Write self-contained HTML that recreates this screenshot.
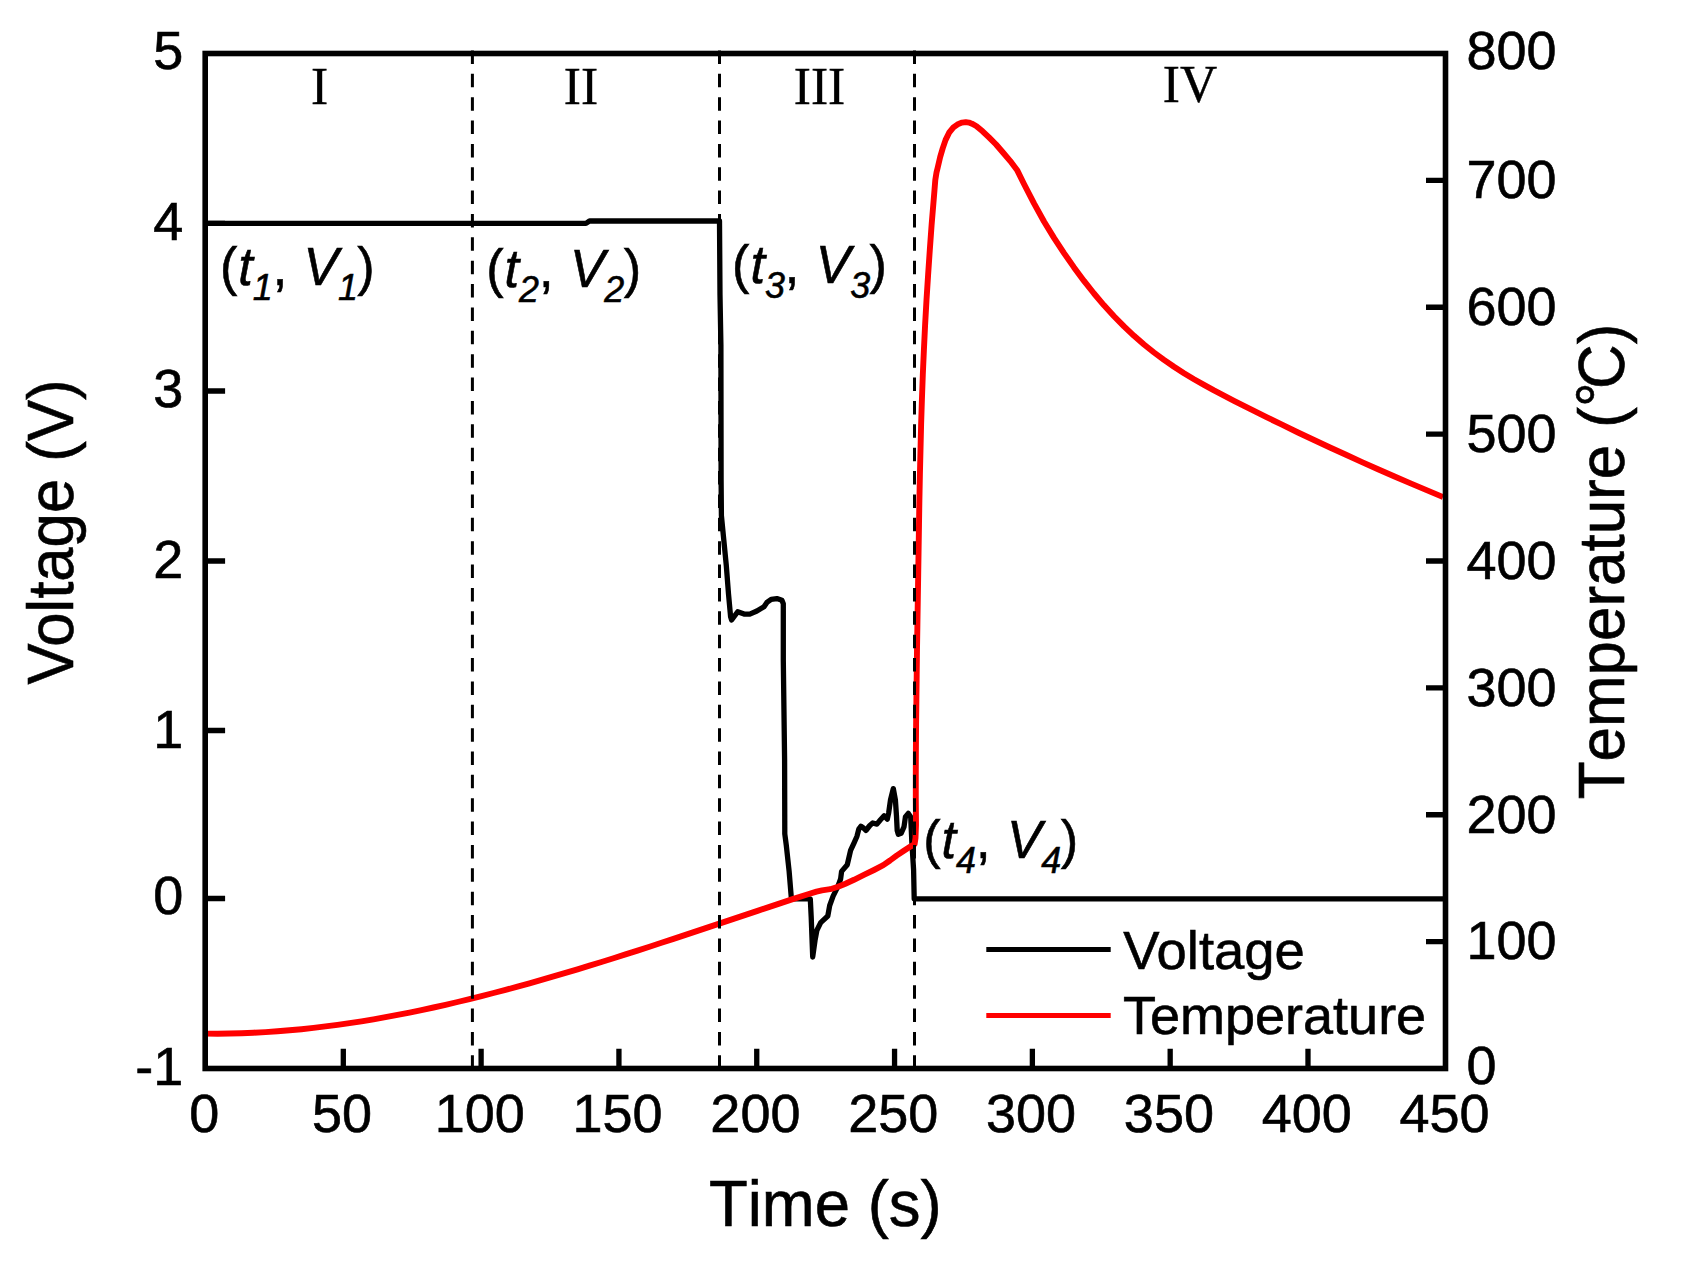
<!DOCTYPE html>
<html><head><meta charset="utf-8"><title>Voltage and Temperature vs Time</title>
<style>
html,body{margin:0;padding:0;background:#fff}
svg{display:block}
text{font-family:"Liberation Sans",Arial,sans-serif;fill:#000;stroke:#000;stroke-width:0.6px}
.tk{font-size:54px}
.ttl{font-size:65.5px}
.rn{font-family:"Liberation Serif","Times New Roman",serif;font-size:51.5px;stroke-width:0.4px}
.an{font-size:54px}
.it{font-style:italic}
.sb{font-style:italic;font-size:37px}
</style></head><body>
<svg width="1686" height="1272" viewBox="0 0 1686 1272">
<rect width="1686" height="1272" fill="#fff"/>
<polyline points="205.5,223.4 586.0,223.4 589.5,221.0 719.5,221.0 720.0,295.0 720.9,345.0 721.1,480.0 721.4,515.6 723.5,537.0 726.3,565.4 728.5,593.9 730.6,616.7 731.6,620.0 737.7,611.7 744.1,614.1 749.8,614.1 756.9,611.0 764.0,606.7 766.9,602.4 771.2,599.3 776.9,598.6 781.9,600.3 783.3,603.8 783.3,660.0 784.6,760.0 784.8,834.0 786.3,845.4 789.1,871.0 791.3,897.5 791.5,898.8 810.3,898.9 811.2,917.0 812.7,957.0 815.0,940.6 816.9,930.2 820.7,922.6 827.8,916.0 829.7,905.5 833.1,896.1 837.8,886.6 840.6,879.0 841.6,871.4 847.3,864.7 850.6,850.4 854.2,842.6 857.0,836.2 858.8,829.1 860.9,826.2 863.4,828.0 865.9,830.5 869.8,825.5 872.7,823.0 876.9,824.1 880.5,819.8 884.1,815.9 887.3,819.1 888.7,812.7 890.5,799.9 893.3,788.6 895.4,799.9 896.5,816.3 897.2,830.5 898.3,834.4 901.1,833.3 904.0,826.9 905.4,817.0 908.3,813.4 910.7,817.0 911.8,841.2 913.6,870.0 914.2,898.8 1445.5,898.8" fill="none" stroke="#000" stroke-width="5.3" stroke-linejoin="round"/>
<polyline points="205.5,1033.6 217.5,1033.7 229.5,1033.5 241.5,1033.2 253.5,1032.7 265.5,1032.1 277.5,1031.3 289.5,1030.3 301.5,1029.2 313.5,1027.9 325.5,1026.4 337.5,1024.8 349.5,1023.1 361.5,1021.3 373.5,1019.3 385.5,1017.2 397.5,1014.9 409.5,1012.6 421.5,1010.1 433.5,1007.5 445.5,1004.8 457.5,1002.0 469.5,999.1 481.5,996.1 493.5,993.0 505.5,989.9 517.5,986.6 529.5,983.3 541.5,979.9 553.5,976.4 565.5,972.9 577.5,969.3 589.5,965.7 601.5,962.0 613.5,958.2 625.5,954.4 637.5,950.6 649.5,946.7 661.5,942.8 673.5,938.9 685.5,934.9 697.5,930.9 709.5,926.9 721.5,922.9 733.5,918.9 745.5,914.9 757.5,910.9 769.5,906.9 781.5,902.9 793.5,898.9 808.0,894.2 816.5,891.6 822.0,890.3 830.2,889.2 838.0,886.8 845.4,883.7 854.0,879.8 864.4,874.7 874.0,870.0 883.3,865.2 890.0,860.5 896.6,855.6 903.5,851.0 910.8,846.3 914.6,844.2 915.5,838.0 916.0,825.0 915.8,800.0 915.8,775.0 915.9,750.0 916.1,725.0 916.4,700.0 916.7,675.0 917.0,650.0 917.4,625.0 917.8,600.0 918.2,575.0 918.6,550.0 919.0,525.0 919.4,500.0 919.9,475.0 920.5,450.0 921.1,425.0 921.9,400.0 922.8,375.0 923.9,350.0 925.1,325.0 926.5,300.0 928.1,275.0 929.8,250.0 931.6,225.0 934.5,190.0 935.3,180.0 936.5,172.5 937.7,167.6 940.2,156.9 942.7,148.4 945.6,139.9 949.1,132.7 953.4,127.4 958.4,123.9 962.0,122.6 965.8,122.1 969.0,122.6 971.9,123.7 976.2,126.0 982.6,131.3 989.0,137.4 996.1,144.5 1003.2,152.7 1010.3,161.1 1017.4,170.6 1024.0,184.0 1034.0,203.4 1044.0,221.5 1054.0,237.9 1064.0,253.1 1074.0,267.4 1084.0,280.9 1094.0,293.5 1104.0,305.3 1114.0,316.2 1124.0,326.4 1134.0,335.8 1144.0,344.5 1154.0,352.5 1164.0,359.9 1174.0,366.8 1184.0,373.2 1194.0,379.2 1204.0,384.9 1214.0,390.4 1224.0,395.6 1234.0,400.8 1244.0,405.9 1250.0,408.9 1266.0,416.9 1282.0,424.7 1298.0,432.5 1314.0,440.0 1330.0,447.5 1346.0,454.8 1362.0,462.1 1378.0,469.2 1394.0,476.2 1410.0,483.1 1426.0,489.9 1442.0,496.6 1443.0,497.0" fill="none" stroke="#f00" stroke-width="5.9" stroke-linejoin="round"/>
<line x1="472.4" y1="50.4" x2="472.4" y2="1068.5" stroke="#000" stroke-width="3" stroke-dasharray="13.5 9.87"/>
<line x1="719.5" y1="50.4" x2="719.5" y2="1068.5" stroke="#000" stroke-width="3" stroke-dasharray="13.5 9.87"/>
<line x1="914.5" y1="50.4" x2="914.5" y2="1068.5" stroke="#000" stroke-width="3" stroke-dasharray="13.5 9.87"/>
<rect x="205.2" y="53.5" width="1240.3" height="1015.0" fill="none" stroke="#000" stroke-width="5.6"/>
<path d="M205.2,898.50H225.1M205.2,730.50H225.1M205.2,561.00H225.1M205.2,391.00H225.1M205.2,223.40H225.1M1445.5,941.62H1426M1445.5,814.75H1426M1445.5,687.88H1426M1445.5,561.00H1426M1445.5,434.12H1426M1445.5,307.25H1426M1445.5,180.38H1426M343.31,1068.5V1048.8M481.12,1068.5V1048.8M618.93,1068.5V1048.8M756.74,1068.5V1048.8M894.56,1068.5V1048.8M1032.37,1068.5V1048.8M1170.18,1068.5V1048.8M1307.99,1068.5V1048.8" stroke="#000" stroke-width="5.3" fill="none"/>
<text class="tk" x="183.2" y="1085.1" text-anchor="end">-1</text>
<text class="tk" x="183.2" y="914.4" text-anchor="end">0</text>
<text class="tk" x="183.2" y="747.7" text-anchor="end">1</text>
<text class="tk" x="183.2" y="577.7" text-anchor="end">2</text>
<text class="tk" x="183.2" y="407.3" text-anchor="end">3</text>
<text class="tk" x="183.2" y="239.5" text-anchor="end">4</text>
<text class="tk" x="183.2" y="69.2" text-anchor="end">5</text>
<text class="tk" x="1466.5" y="1084.1">0</text>
<text class="tk" x="1466.5" y="959.4">100</text>
<text class="tk" x="1466.5" y="832.5">200</text>
<text class="tk" x="1466.5" y="705.7">300</text>
<text class="tk" x="1466.5" y="578.8">400</text>
<text class="tk" x="1466.5" y="451.9">500</text>
<text class="tk" x="1466.5" y="325.1">600</text>
<text class="tk" x="1466.5" y="198.2">700</text>
<text class="tk" x="1466.5" y="69.4">800</text>
<text class="tk" x="204.2" y="1131.6" text-anchor="middle">0</text>
<text class="tk" x="342.0" y="1131.6" text-anchor="middle">50</text>
<text class="tk" x="479.8" y="1131.6" text-anchor="middle">100</text>
<text class="tk" x="617.6" y="1131.6" text-anchor="middle">150</text>
<text class="tk" x="755.4" y="1131.6" text-anchor="middle">200</text>
<text class="tk" x="893.3" y="1131.6" text-anchor="middle">250</text>
<text class="tk" x="1031.1" y="1131.6" text-anchor="middle">300</text>
<text class="tk" x="1168.9" y="1131.6" text-anchor="middle">350</text>
<text class="tk" x="1306.7" y="1131.6" text-anchor="middle">400</text>
<text class="tk" x="1444.5" y="1131.6" text-anchor="middle">450</text>
<text class="ttl" transform="translate(825.3,1226.2) scale(0.969,1)" style="font-kerning:none" text-anchor="middle">Time (s)</text>
<text class="ttl" transform="translate(73.1,532) rotate(-90) scale(0.942,1)" text-anchor="middle">Voltage (V)</text>
<text class="ttl" transform="translate(1624,561.4) rotate(-90) scale(0.9454,1)" style="font-kerning:none" text-anchor="middle">Temperature (<tspan dy="-3.5">°</tspan><tspan dx="-7" dy="3.5">C</tspan>)</text>
<text class="rn" transform="translate(319.5,104.1) scale(1,1.045)" text-anchor="middle">I</text>
<text class="rn" transform="translate(581,104.1) scale(1,1.045)" text-anchor="middle">II</text>
<text class="rn" transform="translate(819.5,104.1) scale(1,1.045)" text-anchor="middle">III</text>
<text class="rn" transform="translate(1190,102.2) scale(1,1.045)" text-anchor="middle">IV</text>
<text class="an" transform="translate(219.9,284.9) scale(0.967,1)">(<tspan class="it" dx="1">t</tspan><tspan class="sb" dy="15">1</tspan><tspan dy="-15">, </tspan><tspan class="it" dx="2">V</tspan><tspan class="sb" dy="15" dx="-0.5">1</tspan><tspan dy="-15" dx="-0.5">)</tspan></text>
<text class="an" transform="translate(486.2,286.7) scale(0.967,1)">(<tspan class="it" dx="1">t</tspan><tspan class="sb" dy="15">2</tspan><tspan dy="-15">, </tspan><tspan class="it" dx="2">V</tspan><tspan class="sb" dy="15" dx="-0.5">2</tspan><tspan dy="-15" dx="-0.5">)</tspan></text>
<text class="an" transform="translate(732.1,282.8) scale(0.967,1)">(<tspan class="it" dx="1">t</tspan><tspan class="sb" dy="15">3</tspan><tspan dy="-15">, </tspan><tspan class="it" dx="2">V</tspan><tspan class="sb" dy="15" dx="-0.5">3</tspan><tspan dy="-15" dx="-0.5">)</tspan></text>
<text class="an" transform="translate(923.2,858.1) scale(0.967,1)">(<tspan class="it" dx="1">t</tspan><tspan class="sb" dy="15">4</tspan><tspan dy="-15">, </tspan><tspan class="it" dx="2">V</tspan><tspan class="sb" dy="15" dx="-0.5">4</tspan><tspan dy="-15" dx="-0.5">)</tspan></text>
<line x1="986.3" y1="949.5" x2="1110.7" y2="949.5" stroke="#000" stroke-width="5.2"/>
<line x1="986.3" y1="1015.5" x2="1110.7" y2="1015.5" stroke="#f00" stroke-width="5.2"/>
<text class="tk" transform="translate(1123.3,968.8) scale(1.008,1)">Voltage</text>
<text class="tk" x="1123" y="1033.5">Temperature</text>
</svg></body></html>
